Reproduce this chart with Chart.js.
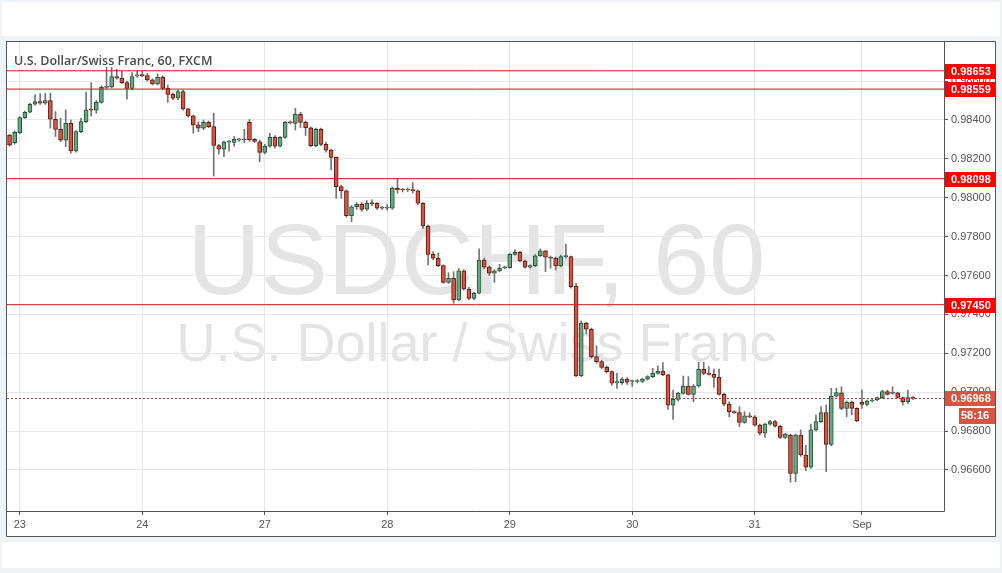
<!DOCTYPE html>
<html><head><meta charset="utf-8">
<script src="https://cdn.jsdelivr.net/npm/chart.js@4.4.0/dist/chart.umd.min.js"></script>
<style>html,body{margin:0;padding:0;background:#f0f3f6;}canvas{display:block}</style>
</head><body>
<canvas id="c" width="1002" height="573"></canvas>
<script>
// ---- data (USD/CHF, 60 min, FXCM) ----
const opens = [
.98322,.98284,.98335,.98412,.98440,.98481,.98495,.98486,.98500,.98404,
.98352,.98296,.98383,.98241,.98340,.98392,.98452,.98450,.98491,.98568,
.98570,.98623,.98615,.98592,.98563,.98627,.98630,.98628,.98606,.98586,
.98620,.98563,.98532,.98512,.98546,.98457,.98421,.98375,.98358,.98388,
.98366,.98269,.98250,.98286,.98285,.98298,.98300,.98388,.98300,.98288,
.98233,.98266,.98311,.98266,.98311,.98388,.98383,.98429,.98388,.98360,
.98268,.98352,.98275,.98245,.98208,.98057,.98036,.97908,.97954,.97966,
.97942,.97971,.97971,.97946,.97946,.97946,.98048,.98042,.98040,.98042,
.98036,.97972,.97855,.97709,.97689,.97651,.97565,.97586,.97475,.97624,
.97531,.97483,.97509,.97680,.97643,.97612,.97624,.97640,.97641,.97709,
.97720,.97675,.97643,.97651,.97702,.97727,.97694,.97689,.97649,.97697,
.97697,.97546,.97084,.97355,.97324,.97183,.97157,.97128,.97106,.97049,
.97049,.97067,.97055,.97055,.97055,.97067,.97080,.97097,.97109,.97089,
.96934,.96963,.96994,.97032,.96989,.97032,.97118,.97097,.97092,.97076,
.96989,.96939,.96900,.96895,.96845,.96876,.96874,.96831,.96789,.96836,
.96849,.96826,.96768,.96780,.96583,.96780,.96677,.96614,.96806,.96849,
.96895,.96732,.96980,.96997,.96917,.96948,.96917,.96948,.96937,.96955,
.96960,.96972,.97003,.96994,.96997,.96973,.96951,.96973];
const highs = [
.98326,.98344,.98418,.98446,.98486,.98530,.98535,.98538,.98538,.98443,
.98409,.98452,.98400,.98345,.98409,.98543,.98592,.98500,.98575,.98671,
.98671,.98661,.98650,.98600,.98644,.98652,.98650,.98640,.98612,.98637,
.98628,.98580,.98540,.98555,.98555,.98460,.98425,.98390,.98400,.98395,
.98435,.98275,.98292,.98295,.98315,.98305,.98352,.98403,.98305,.98297,
.98275,.98331,.98320,.98315,.98392,.98395,.98460,.98440,.98395,.98365,
.98358,.98358,.98285,.98250,.98210,.98065,.98040,.97960,.97975,.97975,
.97985,.97990,.97975,.97955,.97966,.98055,.98100,.98048,.98050,.98078,
.98040,.97975,.97860,.97723,.97715,.97655,.97615,.97620,.97637,.97630,
.97540,.97515,.97737,.97690,.97650,.97630,.97658,.97648,.97715,.97732,
.97725,.97680,.97655,.97708,.97737,.97730,.97700,.97695,.97705,.97762,
.97700,.97560,.97367,.97360,.97330,.97238,.97165,.97135,.97110,.97097,
.97075,.97075,.97062,.97065,.97072,.97085,.97123,.97135,.97152,.97092,
.97011,.97000,.97083,.97080,.97040,.97154,.97154,.97131,.97119,.97119,
.96995,.96951,.96905,.96926,.96900,.96895,.96880,.96836,.96840,.96855,
.96855,.96830,.96790,.96785,.96785,.96806,.96727,.96836,.96883,.96926,
.96934,.97020,.97020,.97028,.96955,.96955,.96920,.97011,.96960,.96965,
.96975,.97011,.97011,.97028,.97000,.96975,.97011,.96978];
const lows = [
.98266,.98276,.98329,.98408,.98436,.98476,.98480,.98480,.98358,.98315,
.98289,.98263,.98229,.98235,.98335,.98388,.98420,.98435,.98486,.98560,
.98565,.98610,.98588,.98507,.98555,.98620,.98622,.98600,.98580,.98580,
.98555,.98491,.98505,.98505,.98450,.98415,.98332,.98340,.98350,.98360,
.98112,.98225,.98212,.98240,.98265,.98290,.98285,.98290,.98285,.98185,
.98225,.98260,.98255,.98262,.98305,.98380,.98348,.98360,.98320,.98262,
.98262,.98268,.98235,.98143,.97997,.97997,.97900,.97877,.97940,.97930,
.97935,.97960,.97940,.97940,.97935,.97940,.98023,.98030,.98032,.98025,
.97965,.97843,.97655,.97680,.97645,.97560,.97560,.97457,.97470,.97525,
.97475,.97475,.97505,.97635,.97600,.97565,.97620,.97635,.97638,.97705,
.97670,.97638,.97638,.97645,.97698,.97620,.97637,.97629,.97645,.97690,
.97535,.97080,.97080,.97300,.97175,.97150,.97120,.97100,.97035,.97020,
.97040,.97040,.97030,.97048,.97050,.97062,.97075,.97092,.97085,.96912,
.96860,.96955,.96990,.96985,.96951,.97025,.97090,.97088,.97025,.96985,
.96930,.96874,.96890,.96823,.96840,.96868,.96825,.96780,.96768,.96830,
.96820,.96762,.96762,.96537,.96540,.96670,.96597,.96608,.96800,.96845,
.96591,.96725,.96975,.96910,.96874,.96883,.96848,.96917,.96930,.96950,
.96955,.96968,.96985,.96990,.96970,.96934,.96943,.96963];
const closes = [
.98270,.98337,.98412,.98440,.98481,.98495,.98486,.98500,.98404,.98352,
.98296,.98383,.98241,.98340,.98392,.98452,.98450,.98491,.98568,.98570,
.98623,.98615,.98592,.98563,.98623,.98630,.98628,.98606,.98586,.98620,
.98563,.98532,.98512,.98546,.98457,.98421,.98375,.98358,.98388,.98366,
.98269,.98250,.98286,.98289,.98300,.98300,.98297,.98297,.98290,.98233,
.98266,.98311,.98266,.98311,.98388,.98385,.98429,.98388,.98360,.98268,
.98352,.98275,.98245,.98208,.98057,.98036,.97908,.97954,.97966,.97940,
.97971,.97970,.97946,.97946,.97950,.98048,.98040,.98040,.98041,.98036,
.97972,.97855,.97709,.97689,.97651,.97565,.97586,.97475,.97624,.97531,
.97483,.97509,.97680,.97643,.97612,.97624,.97637,.97641,.97709,.97720,
.97675,.97643,.97651,.97702,.97727,.97694,.97689,.97649,.97697,.97698,
.97543,.97084,.97355,.97324,.97183,.97157,.97128,.97106,.97046,.97050,
.97067,.97052,.97055,.97057,.97067,.97080,.97097,.97109,.97089,.96934,
.96963,.96994,.97032,.96989,.97032,.97118,.97097,.97092,.97076,.96989,
.96939,.96900,.96895,.96845,.96878,.96874,.96831,.96789,.96836,.96849,
.96826,.96768,.96785,.96583,.96780,.96677,.96614,.96806,.96849,.96895,
.96732,.96980,.96998,.96917,.96948,.96917,.96853,.96937,.96955,.96960,
.96972,.97003,.96989,.96997,.96973,.96951,.96973,.96968];
const dayTickIndex = [2, 26, 50, 74, 98, 122, 146, 167];
const dayTickLabels = ['23', '24', '27', '28', '29', '30', '31', 'Sep'];
const priceTicks = [0.966, 0.968, 0.970, 0.972, 0.974, 0.976, 0.978, 0.980, 0.982, 0.984, 0.986];
const levelValues = [0.98653, 0.98559, 0.98098, 0.97450];
const lastPrice = 0.96968;
const countdownText = '58:16';
const titleText = 'U.S. Dollar/Swiss Franc, 60, FXCM';
const watermarkSymbol = 'USDCHF, 60';
const watermarkName = 'U.S. Dollar / Swiss Franc';

// ---- styling ----
const UP = '#6ba583', DOWN = '#d75442', UP_B = '#225437', DOWN_B = '#5b1a13', WICK = '#737375';
const X_MIN = -0.5, X_MAX = 183.08, Y_MIN = 0.963891, Y_MAX = 0.988011;
const FONT = '"Liberation Sans", Arial, sans-serif';
Chart.defaults.font.family = FONT;

const idx = opens.map((_, i) => i);
const isUp = i => closes[i] >= opens[i];
const bodyData = idx.map(i => ({x: i, y: [opens[i], closes[i]]}));
const wickData = idx.map(i => ({x: i, y: [lows[i], highs[i]]}));

const levelSets = levelValues.map(v => ({
  type: 'line', data: [{x: X_MIN, y: v}, {x: X_MAX, y: v}],
  borderColor: '#d01515', borderWidth: 1, pointRadius: 0, order: 0
}));

const decor = {
  id: 'decor',
  beforeDraw(chart) {
    const c = chart.ctx;
    c.save();
    c.fillStyle = '#f0f3f6'; c.fillRect(0, 0, 1002, 573);
    c.fillStyle = '#ffffff';
    c.fillRect(2, 2, 998, 34);
    c.fillRect(6, 41, 990, 496);
    c.fillRect(2, 542, 998, 26);
    const a = chart.chartArea, cx = (a.left + a.right) / 2;
    c.fillStyle = '#e4e4e4';
    c.textAlign = 'center'; c.textBaseline = 'alphabetic';
    c.font = '101px ' + FONT;
    c.fillText(watermarkSymbol, cx + 1, 294);
    c.font = '54px ' + FONT;
    c.fillText(watermarkName, cx + 1, 361);
    c.restore();
  },
  afterDraw(chart) {
    const c = chart.ctx, y = chart.scales.y, a = chart.chartArea;
    c.save();
    // frame and plot borders
    c.strokeStyle = '#555'; c.lineWidth = 1;
    c.beginPath();
    c.rect(6.5, 41.5, 989, 495);
    c.moveTo(a.right + 0.5, 41.5); c.lineTo(a.right + 0.5, a.bottom + 0.5);
    c.moveTo(6.5, a.bottom + 0.5); c.lineTo(a.right + 0.5, a.bottom + 0.5);
    c.stroke();
    // title
    c.fillStyle = '#4a4a4a'; c.font = '600 12.5px "Open Sans", ' + FONT;
    c.textAlign = 'left'; c.textBaseline = 'alphabetic';
    c.fillText(titleText, 14, 65);
    // level labels
    c.font = 'bold 11px ' + FONT; c.textBaseline = 'middle';
    levelValues.forEach(v => {
      const py = Math.round(y.getPixelForValue(v));
      c.fillStyle = '#ff0000'; c.fillRect(a.right + 1, py - 7, 50, 15);
      c.fillStyle = '#ffffff'; c.fillText(v.toFixed(5), 951, py + 1);
    });
    // last price
    const lp = Math.round(y.getPixelForValue(lastPrice));
    c.strokeStyle = '#c0392b'; c.setLineDash([2, 2]);
    c.beginPath(); c.moveTo(a.left, lp + 0.5); c.lineTo(a.right, lp + 0.5); c.stroke();
    c.setLineDash([]);
    c.fillStyle = DOWN; c.fillRect(a.right + 1, lp - 7, 50, 15);
    c.fillRect(a.right + 15, lp + 10, 36, 16);
    c.fillStyle = '#ffffff';
    c.fillText(lastPrice.toFixed(5), 951, lp + 1);
    c.fillText(countdownText, 961, lp + 18);
    c.restore();
  }
};

new Chart(document.getElementById('c'), {
  type: 'bar',
  data: {
    datasets: [
      {type: 'bar', data: bodyData, grouped: false, barThickness: 4, borderWidth: 1,
       borderSkipped: false, minBarLength: 1, order: 1,
       backgroundColor: ctx => isUp(ctx.dataIndex) ? UP : DOWN,
       borderColor: ctx => isUp(ctx.dataIndex) ? UP_B : DOWN_B},
      {type: 'bar', data: wickData, grouped: false, barThickness: 1, borderWidth: 0,
       backgroundColor: WICK, order: 2},
      ...levelSets
    ]
  },
  options: {
    responsive: false, animation: false, devicePixelRatio: 1, events: [],
    layout: {padding: {left: 7, right: 7, top: 42, bottom: 37}},
    plugins: {legend: {display: false}, tooltip: {enabled: false}},
    scales: {
      x: {
        type: 'linear', min: X_MIN, max: X_MAX, offset: false,
        grid: {color: '#e8e8e8', tickColor: '#555', tickLength: 4, offset: false},
        border: {display: false},
        afterBuildTicks: s => { s.ticks = dayTickIndex.map(v => ({value: v})); },
        afterFit: s => { s.height = 25; },
        ticks: {autoSkip: false, maxRotation: 0, color: '#555', padding: 3,
                font: {size: 11}, callback: (v, i) => dayTickLabels[i]}
      },
      y: {
        position: 'right', min: Y_MIN, max: Y_MAX,
        grid: {color: '#e8e8e8', tickColor: '#555', tickLength: 4},
        border: {display: false},
        afterBuildTicks: s => { s.ticks = priceTicks.map(v => ({value: v})); },
        afterFit: s => { s.width = 51; },
        ticks: {color: '#555', padding: 3, font: {size: 11}, callback: v => v.toFixed(5)}
      }
    }
  },
  plugins: [decor]
});
</script>
</body></html>
